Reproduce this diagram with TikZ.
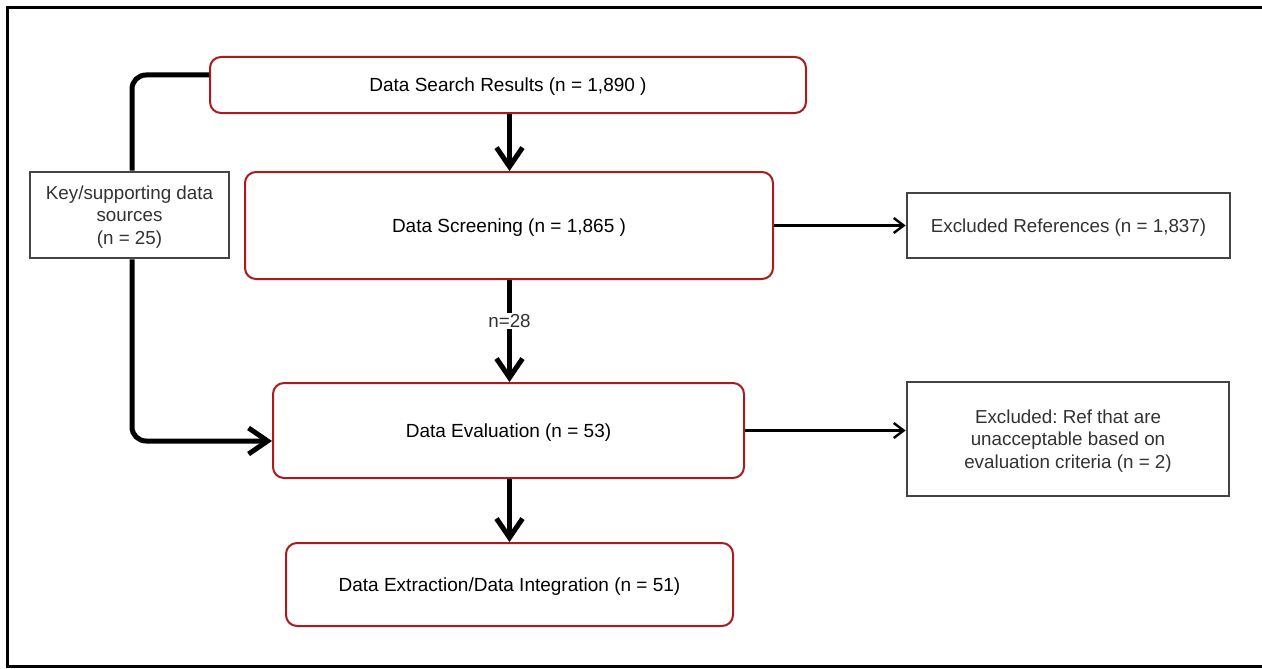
\documentclass[tikz,border=0pt]{standalone}
\usepackage{fontspec}
\setmainfont{Liberation Sans}
\usetikzlibrary{arrows.meta}
\frenchspacing
\definecolor{stagered}{RGB}{168,28,28}
\definecolor{sidegray}{RGB}{68,68,68}
\definecolor{sidetext}{RGB}{50,50,50}
\begin{document}
\begin{tikzpicture}[x=1pt,y=-1pt,
  stagebox/.style={draw=stagered, line width=2pt, rounded corners=11pt, fill=white,
    inner sep=0pt, align=center, text=black, text depth=0pt,
    font=\fontsize{19}{22.5}\selectfont},
  sidebox/.style={draw=sidegray, line width=2.6pt, fill=white,
    inner sep=0pt, align=center, text=sidetext, text depth=0pt,
    font=\fontsize{18.8}{22.5}\selectfont},
  mainflow/.style={line width=5pt, -{Straight Barb[length=19pt,width=26pt]}},
  sideflow/.style={line width=2.4pt, -{Straight Barb[length=10pt,width=15pt]}},
  feedline/.style={line width=5pt, rounded corners=14pt},
]
\useasboundingbox (0,0) rectangle (1262,669);
% outer frame (open on the right side)
\draw[line width=3pt] (1262,7.5) -- (7.5,7.5) -- (7.5,666.5) -- (1262,666.5);

% stages
\node[stagebox, minimum width=596pt, minimum height=56pt] (search) at (508,85)
  {Data Search Results (n = 1,890 )};
\node[stagebox, minimum width=528pt, minimum height=107pt] (screen) at (509,225.5)
  {Data Screening (n = 1,865 )};
\node[stagebox, minimum width=471pt, minimum height=95pt] (eval) at (508.5,430.5)
  {Data Evaluation (n = 53)};
\node[stagebox, minimum width=447pt, minimum height=83pt] (extract) at (509.5,584.5)
  {Data Extraction/Data Integration (n = 51)};

% side boxes
\node[sidebox, minimum width=199pt, minimum height=86pt] (key) at (129.5,215)
  {Key/supporting data\\sources\\(n = 25)};
\node[sidebox, minimum width=323pt, minimum height=65pt] (exref) at (1068.5,225.5)
  {Excluded References (n = 1,837)};
\node[sidebox, minimum width=322pt, minimum height=114pt] (exeval) at (1068,439)
  {Excluded: Ref that are\\unacceptable based on\\evaluation criteria (n = 2)};

% main flow, one vertical axis
\coordinate (axis) at (509.5,0);
\draw[mainflow] (axis |- search.south) -- (axis |- screen.north);
\draw[mainflow] (axis |- screen.south) -- node[fill=white, inner sep=1.5pt,
  text=sidetext, text depth=0pt, font=\fontsize{18.8}{22}\selectfont, pos=0.4] (n28) {n=28}
  (axis |- eval.north);
\draw[mainflow] (axis |- eval.south) -- (axis |- extract.north);

% exclusions
\draw[sideflow] (screen) -- (exref);
\draw[sideflow] (eval.east) -- (exeval.west |- eval.east);

% supporting sources feed into the evaluation
\draw[feedline] ([yshift=10pt]search.west) -| ([xshift=2.5pt]key.north);
\draw[feedline, -{Straight Barb[length=19pt,width=26pt]}]
  ([xshift=2.5pt]key.south) |- ([yshift=-10.5pt]eval.west);
\end{tikzpicture}
\end{document}
